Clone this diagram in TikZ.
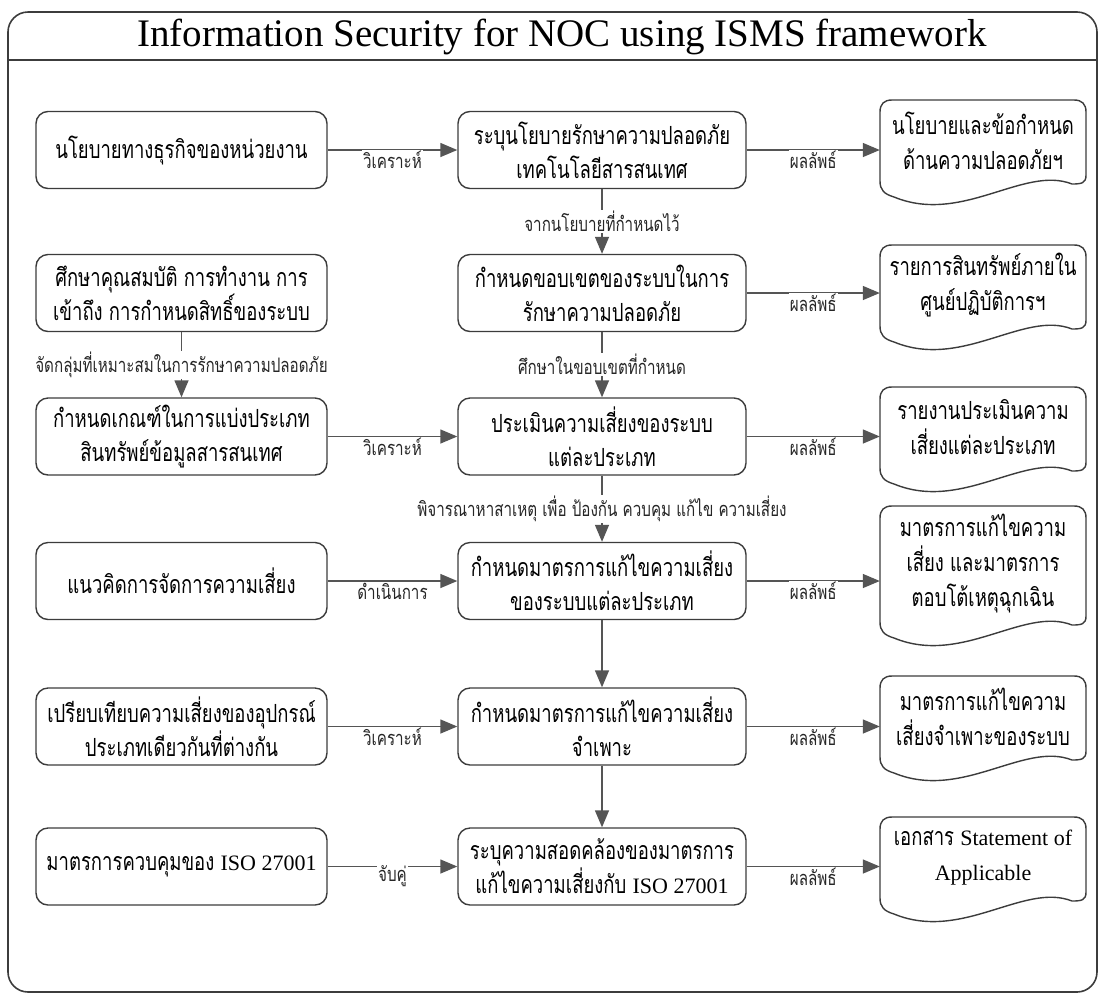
\documentclass[tikz,border=0pt]{standalone}
\usepackage{fontspec}
\setmainfont{Liberation Serif}
\newfontfamily\thfont[Script=Thai,FakeStretch=0.74]{Loma}
\newfontfamily\thlab[Script=Thai,FakeStretch=0.76]{Loma}
\newfontfamily\latfont{Liberation Serif}
\usetikzlibrary{arrows.meta}

\definecolor{edgec}{HTML}{3C3C3C}
\definecolor{connc}{HTML}{555555}

\newcommand\docshape[2]{%
 \draw[docline] (1086,#2-8) .. controls (1086,#2) and (1082,#2+1) .. (1072,#2+1)
   .. controls (1024,#2-18) and (962,#2+42) .. (894,#2+14)
   .. controls (884,#2+11) and (880,#2+7) .. (880,#2-2)
   -- (880,#1+12) .. controls (880,#1+4) and (884,#1) .. (892,#1)
   -- (1074,#1) .. controls (1082,#1) and (1086,#1+4) .. (1086,#1+12) -- cycle;}

\tikzset{
 box/.style={draw=edgec, line width=1.4pt, rounded corners=12pt, minimum width=291pt,
   minimum height=77pt, align=center, inner sep=2pt, font=\thfont\fontsize{25}{34}\selectfont},
 mbox/.style={box, minimum width=288pt},
 doctext/.style={minimum width=206pt, inner sep=0pt, align=center,
   font=\thfont\fontsize{25}{35}\selectfont},
 docline/.style={draw=edgec, line width=1.4pt},
 conn/.style={draw=connc, line width=1.4pt, -{Triangle[length=17pt,width=14pt]}},
 lab/.style={fill=white, inner sep=1pt, font=\thlab\fontsize{20}{22}\selectfont, text=black!85},
 hlab/.style={lab, yshift=-10pt},
 framec/.style={draw=edgec, line width=1.6pt},
}
\newcommand\lt[1]{{\latfont\fontsize{22}{34}\selectfont #1}}

\begin{document}
\begin{tikzpicture}[x=1pt,y=-1pt]
\useasboundingbox (0,0) rectangle (1099,994);
\fill[white] (0,0) rectangle (1099,994);

% frame and title
\draw[framec, rounded corners=20pt] (8,12) rectangle (1097,992);
\draw[framec] (8,60) -- (1097,60);
\node[font=\latfont\fontsize{39}{40}\selectfont] (title) at (562,37) {Information Security for NOC using ISMS framework};

% left column
\node[box] (l1) at (181.5,150) {นโยบายทางธุรกิจของหน่วยงาน};
\node[box] (l2) at (181.5,293) {ศึกษาคุณสมบัติ การทำงาน การ\\เข้าถึง การกำหนดสิทธิ์ของระบบ};
\node[box] (l3) at (181.5,436.5) {กำหนดเกณฑ์ในการแบ่งประเภท\\สินทรัพย์ข้อมูลสารสนเทศ};
\node[box] (l4) at (181.5,581) {แนวคิดการจัดการความเสี่ยง};
\node[box] (l5) at (181.5,726.5) {เปรียบเทียบความเสี่ยงของอุปกรณ์\\ประเภทเดียวกันที่ต่างกัน};
\node[box] (l6) at (181.5,866.5) {มาตรการควบคุมของ \lt{ISO 27001}};

% middle column
\node[mbox] (m1) at (602,150) {ระบุนโยบายรักษาความปลอดภัย\\เทคโนโลยีสารสนเทศ};
\node[mbox] (m2) at (602,293) {กำหนดขอบเขตของระบบในการ\\รักษาความปลอดภัย};
\node[mbox] (m3) at (602,436.5) {ประเมินความเสี่ยงของระบบ\\แต่ละประเภท};
\node[mbox] (m4) at (602,581) {กำหนดมาตรการแก้ไขความเสี่ยง\\ของระบบแต่ละประเภท};
\node[mbox] (m5) at (602,726.5) {กำหนดมาตรการแก้ไขความเสี่ยง\\จำเพาะ};
\node[mbox] (m6) at (602,866.5) {ระบุความสอดคล้องของมาตรการ\\แก้ไขความเสี่ยงกับ \lt{ISO 27001}};

% document shapes
\docshape{100}{183}
\node[doctext] (d1) at (983,140.5) {นโยบายและข้อกำหนด\\ด้านความปลอดภัยฯ};
\docshape{245}{328}
\node[doctext] (d2) at (983,285.5) {รายการสินทรัพย์ภายใน\\ศูนย์ปฏิบัติการฯ};
\docshape{387}{470}
\node[doctext] (d3) at (983,427.5) {รายงานประเมินความ\\เสี่ยงแต่ละประเภท};
\docshape{506}{624}
\node[doctext] (d4) at (983,564) {มาตรการแก้ไขความ\\เสี่ยง และมาตรการ\\ตอบโต้เหตุฉุกเฉิน};
\docshape{676}{759}
\node[doctext] (d5) at (983,716.5) {มาตรการแก้ไขความ\\เสี่ยงจำเพาะของระบบ};
\docshape{817}{900}
\node[doctext] (d6) at (983,857.5) {เอกสาร \lt{Statement of}\\\lt{Applicable}};

% horizontal connectors
\draw[conn] (l1) -- node[hlab]{วิเคราะห์} (m1);
\draw[conn] (l3) -- node[hlab]{วิเคราะห์} (m3);
\draw[conn] (l4) -- node[hlab]{ดำเนินการ} (m4);
\draw[conn] (l5) -- node[hlab]{วิเคราะห์} (m5);
\draw[conn] (l6) -- node[hlab]{จับคู่} (m6);
\draw[conn] (m1.east) -- node[hlab]{ผลลัพธ์} (m1.east -| d1.west);
\draw[conn] (m2.east) -- node[hlab]{ผลลัพธ์} (m2.east -| d2.west);
\draw[conn] (m3.east) -- node[hlab]{ผลลัพธ์} (m3.east -| d3.west);
\draw[conn] (m4.east) -- node[hlab]{ผลลัพธ์} (m4.east -| d4.west);
\draw[conn] (m5.east) -- node[hlab]{ผลลัพธ์} (m5.east -| d5.west);
\draw[conn] (m6.east) -- node[hlab]{ผลลัพธ์} (m6.east -| d6.west);

% vertical connectors
\draw[conn] (m1) -- node[lab]{จากนโยบายที่กำหนดไว้} (m2);
\draw[conn] (m2) -- node[lab]{ศึกษาในขอบเขตที่กำหนด} (m3);
\draw[conn] (m3) -- node[lab]{พิจารณาหาสาเหตุ เพื่อ ป้องกัน ควบคุม แก้ไข ความเสี่ยง} (m4);
\draw[conn] (m4) -- (m5);
\draw[conn] (m5) -- (m6);
\draw[conn] (l2) -- node[lab]{จัดกลุ่มที่เหมาะสมในการรักษาความปลอดภัย} (l3);
\end{tikzpicture}
\end{document}
